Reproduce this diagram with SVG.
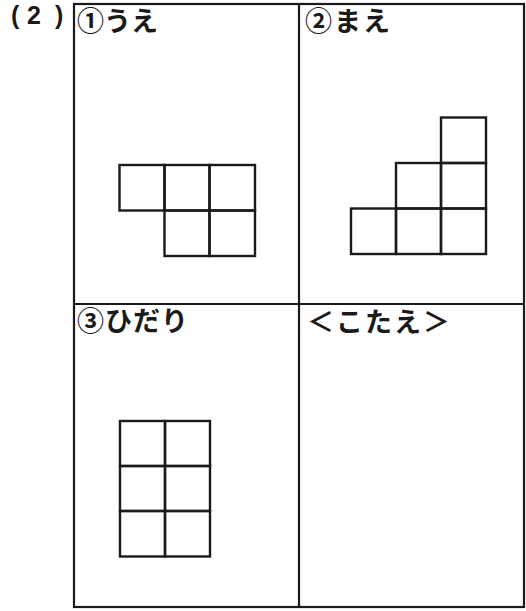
<svg xmlns="http://www.w3.org/2000/svg" width="526" height="611" viewBox="0 0 526 611">
<style>
.frame{fill:none;stroke:#1a1a1a;stroke-width:2.2}
.cell{fill:none;stroke:#1a1a1a;stroke-width:2.4}
.lbl{font-family:"Noto Sans CJK JP","Noto Sans",sans-serif;font-weight:bold;font-size:27px;fill:#1a1a1a}
.num{font-family:"Liberation Sans",Arial,sans-serif;font-weight:bold;font-size:25px;fill:#1a1a1a}
</style>
<rect width="526" height="611" fill="#fff"/>
<g id="title"><text class="num" x="11 27 55" y="24">(2)</text></g>
<g id="frame">
<rect class="frame" x="74" y="4" width="450" height="603"/>
<line class="frame" x1="299" y1="4" x2="299" y2="607"/>
<line class="frame" x1="74" y1="304" x2="524" y2="304"/>
</g>
<g id="top-view">
<text class="lbl" x="77" y="31" textLength="81" lengthAdjust="spacing">①うえ</text>
<rect class="cell" x="119.5" y="165" width="45" height="45.5"/>
<rect class="cell" x="164.5" y="165" width="45" height="45.5"/>
<rect class="cell" x="209.5" y="165" width="45.5" height="45.5"/>
<rect class="cell" x="164.5" y="210.5" width="45" height="45.5"/>
<rect class="cell" x="209.5" y="210.5" width="45.5" height="45.5"/>
</g>
<g id="front-view">
<text class="lbl" x="305" y="31" textLength="85" lengthAdjust="spacing">②まえ</text>
<rect class="cell" x="441" y="117.5" width="45" height="45.5"/>
<rect class="cell" x="396" y="163" width="45" height="45.5"/>
<rect class="cell" x="441" y="163" width="45" height="45.5"/>
<rect class="cell" x="351" y="208.5" width="45" height="45.5"/>
<rect class="cell" x="396" y="208.5" width="45" height="45.5"/>
<rect class="cell" x="441" y="208.5" width="45" height="45.5"/>
</g>
<g id="left-view">
<text class="lbl" x="77" y="331" textLength="111" lengthAdjust="spacing">③ひだり</text>
<rect class="cell" x="120" y="421" width="45" height="45"/>
<rect class="cell" x="165" y="421" width="45" height="45"/>
<rect class="cell" x="120" y="466" width="45" height="45"/>
<rect class="cell" x="165" y="466" width="45" height="45"/>
<rect class="cell" x="120" y="511" width="45" height="45.5"/>
<rect class="cell" x="165" y="511" width="45" height="45.5"/>
</g>
<g id="answer">
<text class="lbl" x="307" y="332" textLength="143" lengthAdjust="spacing">＜こたえ＞</text>
</g>
</svg>
